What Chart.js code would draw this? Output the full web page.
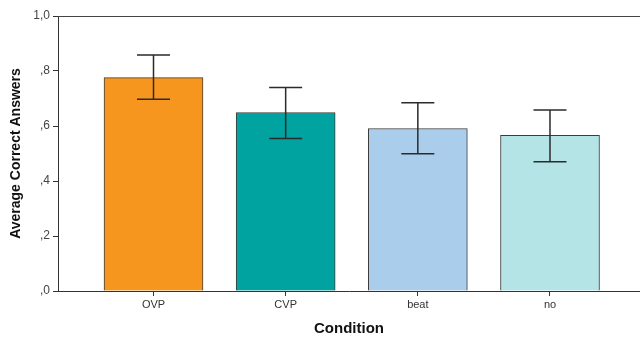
<!DOCTYPE html>
<html>
<head>
<meta charset="utf-8">
<script src="https://cdn.jsdelivr.net/npm/chart.js@4/dist/chart.umd.min.js"></script>
<style>
  html, body { margin: 0; padding: 0; background: #fff; overflow: hidden; }
  #wrap { width: 640px; height: 338px; }
</style>
</head>
<body>
<div id="wrap"><canvas id="chart"></canvas></div>
<script>
const categories = ['OVP', 'CVP', 'beat', 'no']
const means = [0.776, 0.649, 0.591, 0.566]
const errHigh = [0.858, 0.740, 0.685, 0.658]
const errLow = [0.697, 0.555, 0.499, 0.470]
const barColors = ['#f7961f', '#00a3a0', '#abcdec', '#b4e4e6']
const yTicks = [0, 0.2, 0.4, 0.6, 0.8, 1.0]

const font = 'Arial, "Liberation Sans", sans-serif'

// SPSS style labels: 1,0  ,8  ,6 ...
function spssLabel(v) {
	const n = Math.round(v * 10)
	return n === 10 ? '1,0' : ',' + n
}

const errorBars = {
	id: 'errorBars',
	afterDatasetsDraw(chart) {
		const ctx = chart.ctx
		const xs = chart.scales.x
		const ys = chart.scales.y
		ctx.save()
		ctx.strokeStyle = '#2b2b2b'
		ctx.lineWidth = 1.5
		categories.forEach((c, i) => {
			const x = xs.getPixelForValue(i)
			const top = ys.getPixelForValue(errHigh[i])
			const bot = ys.getPixelForValue(errLow[i])
			ctx.beginPath()
			ctx.moveTo(x, top)
			ctx.lineTo(x, bot)
			ctx.moveTo(x - 16.5, top)
			ctx.lineTo(x + 16.5, top)
			ctx.moveTo(x - 16.5, bot)
			ctx.lineTo(x + 16.5, bot)
			ctx.stroke()
		})
		// top frame line
		const a = chart.chartArea
		ctx.strokeStyle = '#444'
		ctx.lineWidth = 1
		ctx.beginPath()
		ctx.moveTo(a.left, a.top + 0.5)
		ctx.lineTo(a.right, a.top + 0.5)
		ctx.stroke()
		ctx.restore()
	}
}

new Chart(document.getElementById('chart'), {
	type: 'bar',
	data: {
		datasets: [{
			data: categories.map((c, i) => ({x: i, y: means[i]})),
			backgroundColor: barColors,
			borderColor: '#3c3c3c',
			borderWidth: 1,
			barThickness: 99
		}]
	},
	options: {
		responsive: true,
		maintainAspectRatio: false,
		animation: false,
		layout: {padding: {top: 16, right: 0, left: 0, bottom: 0}},
		plugins: {legend: {display: false}, tooltip: {enabled: false}},
		scales: {
			x: {
				type: 'linear',
				offset: false,
				min: -0.7226,
				max: 3.681,
				afterBuildTicks: scale => { scale.ticks = categories.map((c, i) => ({value: i})) },
				afterFit: scale => { scale.height = 47 },
				grid: {display: true, offset: false, drawOnChartArea: false, drawTicks: true, tickLength: 5, color: '#333'},
				border: {display: true, color: '#333', width: 1},
				ticks: {
					callback: v => categories[v],
					color: '#333',
					font: {family: font, size: 11},
					padding: 2,
					maxRotation: 0
				},
				title: {
					display: true,
					text: 'Condition',
					color: '#111',
					font: {family: font, size: 15, weight: 'bold'},
					padding: {top: 4, bottom: 0}
				}
			},
			y: {
				min: 0,
				max: 1,
				afterBuildTicks: scale => { scale.ticks = yTicks.map(v => ({value: v})) },
				afterFit: scale => { scale.width = 58 },
				grid: {display: true, drawOnChartArea: false, drawTicks: true, tickLength: 5, color: '#333'},
				border: {display: true, color: '#333', width: 1},
				ticks: {
					callback: v => spssLabel(v),
					color: '#444',
					font: {family: font, size: 12},
					padding: 3
				},
				title: {
					display: true,
					text: 'Average Correct Answers',
					color: '#111',
					font: {family: font, size: 14, weight: 'bold'},
					padding: {top: 8, bottom: 2}
				}
			}
		}
	},
	plugins: [errorBars]
})
</script>
</body>
</html>
